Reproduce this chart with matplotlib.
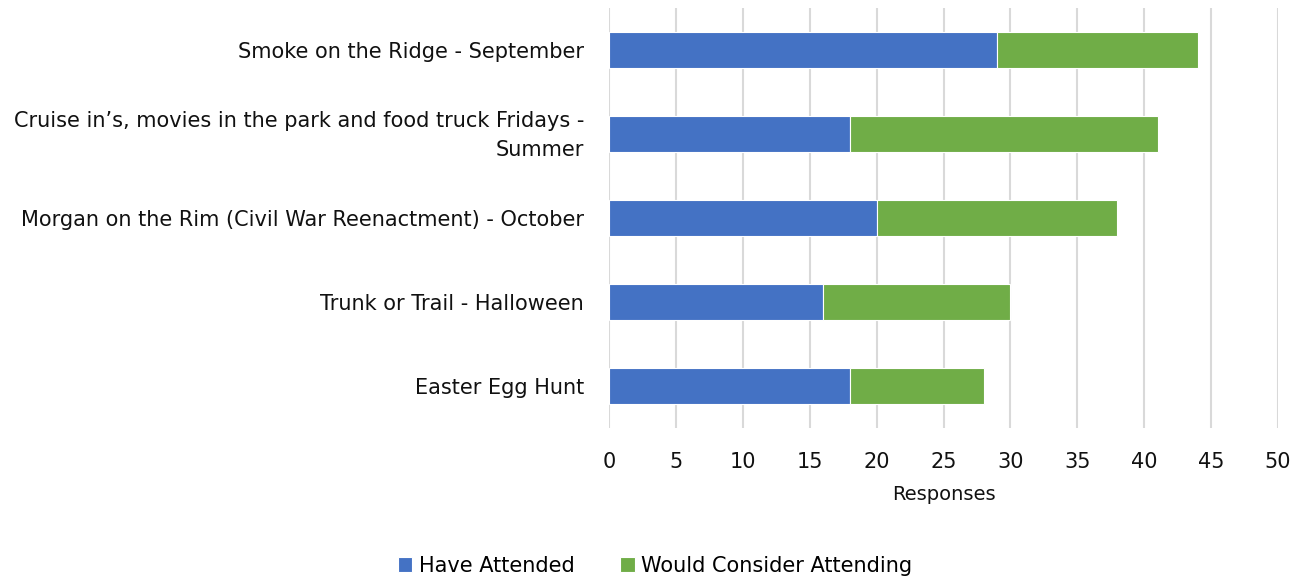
import matplotlib
matplotlib.use("Agg")
from matplotlib import pyplot as plt
from matplotlib.transforms import ScaledTranslation

# data
events = [
    "Smoke on the Ridge - September",
    "Cruise in\u2019s, movies in the park and food truck Fridays -\nSummer",
    "Morgan on the Rim (Civil War Reenactment) - October",
    "Trunk or Trail - Halloween",
    "Easter Egg Hunt",
]
have_attended = [29, 18, 20, 16, 18]
would_consider = [15, 23, 18, 14, 10]
ticks = [0, 5, 10, 15, 20, 25, 30, 35, 40, 45, 50]

plt.rcParams['font.family'] = ['DejaVu Sans']

fig = plt.figure(figsize=(13.05, 5.77), dpi=100)
ax = fig.add_axes([609 / 1305, 1 - 428 / 577, (1278 - 609) / 1305, 420 / 577])

y = list(range(len(events)))
ax.barh(y, have_attended, height=0.42, color='#4472C4', edgecolor='white',
        linewidth=0.8, label='Have Attended', zorder=3)
ax.barh(y, would_consider, left=have_attended, height=0.42, color='#70AD47',
        edgecolor='white', linewidth=0.8, label='Would Consider Attending', zorder=3)

ax.set_ylim(len(events) - 0.5, -0.5)
ax.set_xlim(0, 50)
ax.set_xticks(ticks)
ax.set_yticks(y)
ax.set_yticklabels(events, fontsize=15, color='#111111', ha='right', linespacing=1.55)
ax.tick_params(axis='y', length=0, pad=18)
ax.tick_params(axis='x', length=0, labelsize=15, pad=17, colors='#111111')
ax.grid(axis='x', color='#D9D9D9', linewidth=1.5, zorder=0)
ax.set_axisbelow(True)
for s in ax.spines.values():
    s.set_visible(False)

# two-line label sits a little high in the original
lbl = ax.get_yticklabels()[1]
lbl.set_transform(lbl.get_transform() + ScaledTranslation(0, 5 / 100, fig.dpi_scale_trans))

ax.set_xlabel('Responses', fontsize=14, color='#111111', labelpad=10)

fig.legend(loc='center', bbox_to_anchor=(655 / 1305, 1 - 566 / 577), ncol=2,
           frameon=False, fontsize=15, handlelength=0.7, handleheight=0.7,
           handletextpad=0.3, columnspacing=2.2)

fig.savefig('out.png', dpi=100)
